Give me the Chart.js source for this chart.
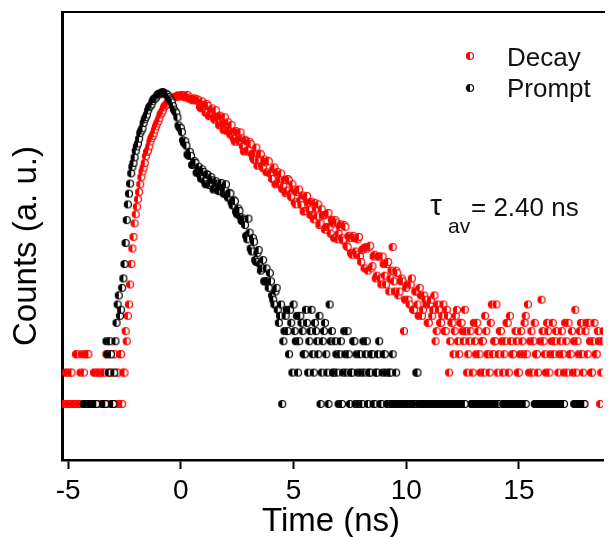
<!DOCTYPE html>
<html>
<head>
<meta charset="utf-8">
<script src="https://cdn.jsdelivr.net/npm/chart.js@4.4.0/dist/chart.umd.min.js"></script>
<style>
  html, body { margin: 0; padding: 0; background: #fff; overflow: hidden; }
</style>
</head>
<body>
<canvas id="chart" width="608" height="537"></canvas>
<script>
// time channels (ns): whole-step channels start at tStart, half-step ones at tStartMid
var tStart = -5.2;
var tStartMid = -5.15;
var tStep = 0.1;

// counts per channel (0 = empty channel)
var decayCounts = [
  1,2,1,2,1,1,3,1,3,2,
  1,3,1,1,2,1,2,1,2,3,
  1,2,3,1,2,3,1,2,4,9,
  22,40,66,92,128,170,205,262,296,355,
  395,462,515,598,652,728,765,826,846,881,
  884,912,896,914,874,921,868,819,854,841,
  818,685,740,621,722,604,683,532,571,471,
  561,424,483,504,383,408,328,402,327,353,
  264,332,274,311,230,255,193,251,193,222,
  167,212,162,179,128,168,144,115,141,111,
  139,96,114,82,113,90,100,71,99,73,
  87,59,75,82,54,64,47,66,50,58,
  39,55,43,53,37,50,32,39,27,39,
  27,40,23,31,32,19,33,21,27,17,
  26,14,22,14,23,16,32,12,18,12,
  16,5,13,10,14,8,12,9,13,7,
  11,9,6,10,8,4,9,6,7,5,
  8,2,6,3,7,4,6,5,8,2,
  4,1,6,3,5,2,4,7,3,2,
  9,4,9,3,5,2,4,6,7,3,
  1,4,2,5,3,7,9,4,2,6,
  3,1,10,4,2,5,3,6,4,1,
  3,5,2,4,6,3,2,8,4,5,
  3,1,6,6,2,4,3,5,1,4
];
var decayCountsMid = [
  1,2,1,2,1,3,1,2,1,3,
  3,1,1,2,1,2,1,2,1,3,
  2,1,3,2,1,3,2,5,7,14,
  31,54,78,108,150,185,238,270,330,372,
  428,490,552,622,700,742,798,838,866,875,
  905,890,920,886,897,850,842,833,818,808,
  706,798,679,756,576,668,564,658,541,582,
  479,561,414,431,474,351,415,343,403,297,
  342,265,327,251,220,288,218,248,183,208,
  215,163,144,186,166,129,162,123,105,144,
  104,128,86,108,114,81,70,96,85,65,
  64,85,63,52,74,65,50,68,43,54,
  58,38,50,39,52,33,41,28,41,29,
  38,26,30,20,31,32,20,26,16,26,
  16,26,17,22,12,19,15,19,11,15,
  15,10,14,9,16,8,12,7,11,8,
  10,6,9,7,11,5,8,6,9,5,
  7,4,6,5,8,3,6,4,5,3,
  5,2,4,6,3,4,2,5,3,6,
  3,4,2,5,4,3,6,2,4,3,
  5,2,3,4,6,3,2,5,4,3,
  2,4,5,3,6,2,4,3,5,2,
  4,3,6,2,3,5,4,2,3,6,
  2,5,3,4,2,6,3,4,2,5
];

var promptCounts = [
  0,0,0,0,0,0,0,0,0,1,
  1,0,1,1,1,0,0,0,1,4,
  2,3,1,4,9,7,13,22,58,104,
  163,205,268,315,397,441,538,598,702,748,
  842,871,942,951,983,938,921,838,781,667,
  620,470,445,338,330,248,262,196,214,165,
  188,145,168,128,157,132,140,118,130,110,
  132,104,128,95,104,80,88,66,71,57,
  58,41,60,31,39,24,28,22,20,15,
  20,13,15,10,12,8,7,1,5,8,
  3,6,9,4,2,7,5,3,6,4,
  8,2,5,3,1,4,6,2,9,5,
  2,3,1,4,2,3,5,1,2,4,
  3,1,2,4,3,1,2,3,1,2,
  4,1,3,2,1,2,3,1,1,1,
  1,1,1,1,1,1,1,2,1,1,
  1,1,1,1,1,1,1,1,1,1,
  1,1,1,1,1,1,1,1,1,0,
  0,1,1,1,1,1,1,1,1,1,
  1,1,1,1,0,1,1,1,1,1,
  1,1,1,1,1,1,0,0,0,1,
  1,1,1,1,1,1,1,1,1,1,
  1,1,1,0,0,0,0,1,1,1,
  1,1,0,0,0,0,0,0,0,0
];
var promptCountsMid = [
  0,0,0,0,0,0,0,0,0,1,
  0,1,1,0,1,0,0,1,1,3,
  4,1,2,6,11,8,16,35,82,130,
  188,232,296,350,420,496,565,655,720,802,
  852,910,935,968,962,946,880,815,720,640,
  560,445,405,318,300,240,240,200,205,170,
  158,178,138,160,126,150,114,137,112,124,
  118,115,100,106,86,90,70,75,62,60,
  52,38,44,29,36,23,30,19,24,15,
  15,18,11,9,13,6,9,4,7,5,
  8,2,5,7,4,6,3,8,2,5,
  3,6,4,7,2,5,3,1,4,2,
  4,2,3,1,5,2,3,2,4,1,
  2,3,1,2,4,2,3,1,2,3,
  1,2,3,1,2,1,1,2,1,1,
  1,1,1,1,1,1,2,1,1,1,
  1,1,1,1,1,1,1,1,1,1,
  1,1,1,1,1,1,1,1,0,0,
  0,1,1,1,1,1,1,1,1,1,
  1,1,1,0,0,1,1,1,1,1,
  1,1,1,1,1,0,0,0,0,1,
  1,1,1,1,1,1,1,1,1,1,
  1,1,0,0,0,0,1,1,1,1,
  1,0,0,0,0,0,0,0,0,0
];

var xTicks = [-5, 0, 5, 10, 15];
var seriesNames = ['Decay', 'Prompt'];
var seriesColors = ['#ff0000', '#000000'];

var FONT = '"Liberation Sans", Arial, sans-serif';

function toPoints(counts, countsMid) {
  var pts = [];
  counts.forEach(function(c, i) {
    pts.push({ x: tStart + i * tStep, y: c > 0 ? c : null });
    var m = countsMid[i];
    pts.push({ x: tStartMid + i * tStep, y: m > 0 ? m : null });
  });
  return pts;
}

// half-left filled circle, like the Origin marker
function halfMarker(color) {
  var c = document.createElement('canvas');
  c.width = 10; c.height = 10;
  var g = c.getContext('2d');
  g.beginPath(); g.arc(5, 5, 3.5, 0, Math.PI * 2);
  g.fillStyle = '#fff'; g.fill();
  g.beginPath(); g.arc(5, 5, 3.5, Math.PI / 2, Math.PI * 1.5); g.closePath();
  g.fillStyle = color; g.fill();
  g.beginPath(); g.arc(5, 5, 3.5, 0, Math.PI * 2);
  g.strokeStyle = color; g.lineWidth = 1.2; g.stroke();
  return c;
}

var markers = seriesColors.map(halfMarker);

var decorations = {
  id: 'decorations',
  afterDraw: function(chart) {
    var ctx = chart.ctx, a = chart.chartArea;
    ctx.save();
    ctx.strokeStyle = '#000';
    ctx.lineWidth = 2;
    ctx.beginPath(); ctx.moveTo(a.left, a.top); ctx.lineTo(a.right + 2, a.top); ctx.stroke();

    // legend
    ctx.fillStyle = '#111';
    ctx.font = '26px ' + FONT;
    ctx.textBaseline = 'alphabetic';
    ctx.textAlign = 'left';
    ctx.drawImage(markers[0], 470 - 5, 56 - 5);
    ctx.fillText(seriesNames[0], 507, 66);
    ctx.drawImage(markers[1], 470 - 5, 88 - 5);
    ctx.fillText(seriesNames[1], 507, 97);

    // lifetime note
    ctx.font = '30px ' + FONT;
    ctx.fillText('\u03c4', 430, 215);
    ctx.font = '21px ' + FONT;
    ctx.fillText('av', 448, 233);
    ctx.font = '26px ' + FONT;
    ctx.fillText('= 2.40 ns', 471, 216);

    // axis titles
    ctx.fillStyle = '#000';
    ctx.font = '33px ' + FONT;
    ctx.textAlign = 'center';
    ctx.textBaseline = 'middle';
    ctx.fillText('Time (ns)', 331, 522);
    ctx.translate(27, 246);
    ctx.rotate(-Math.PI / 2);
    ctx.fillText('Counts (a. u.)', 0, 0);
    ctx.restore();
  }
};

new Chart(document.getElementById('chart'), {
  type: 'scatter',
  data: {
    datasets: [
      {
        label: seriesNames[0],
        data: toPoints(decayCounts, decayCountsMid),
        pointStyle: markers[0],
        pointRadius: 4,
        borderColor: seriesColors[0],
        backgroundColor: seriesColors[0],
        order: 1
      },
      {
        label: seriesNames[1],
        data: toPoints(promptCounts, promptCountsMid),
        pointStyle: markers[1],
        pointRadius: 4,
        borderColor: seriesColors[1],
        backgroundColor: seriesColors[1],
        order: 0
      }
    ]
  },
  options: {
    responsive: false,
    animation: false,
    devicePixelRatio: 1,
    layout: { padding: { top: 12, right: 0, left: 0, bottom: 0 } },
    plugins: {
      legend: { display: false },
      tooltip: { enabled: false }
    },
    scales: {
      x: {
        type: 'linear',
        min: -5.27,
        max: 18.73,
        afterFit: function(s) { s.height = 77; },
        afterBuildTicks: function(s) {
          s.ticks = xTicks.map(function(v) { return { value: v }; });
        },
        grid: {
          display: true,
          drawOnChartArea: false,
          drawTicks: true,
          tickLength: 9,
          tickWidth: 2,
          tickColor: '#000'
        },
        border: { display: true, color: '#000', width: 2.5 },
        ticks: {
          color: '#000',
          padding: 5,
          maxRotation: 0,
          font: { family: FONT, size: 28 }
        }
      },
      y: {
        type: 'logarithmic',
        min: 0.29,
        max: 5750,
        afterFit: function(s) { s.width = 62; },
        grid: { display: false },
        border: { display: true, color: '#000', width: 3 },
        ticks: { display: false }
      }
    }
  },
  plugins: [decorations]
});
</script>
</body>
</html>
